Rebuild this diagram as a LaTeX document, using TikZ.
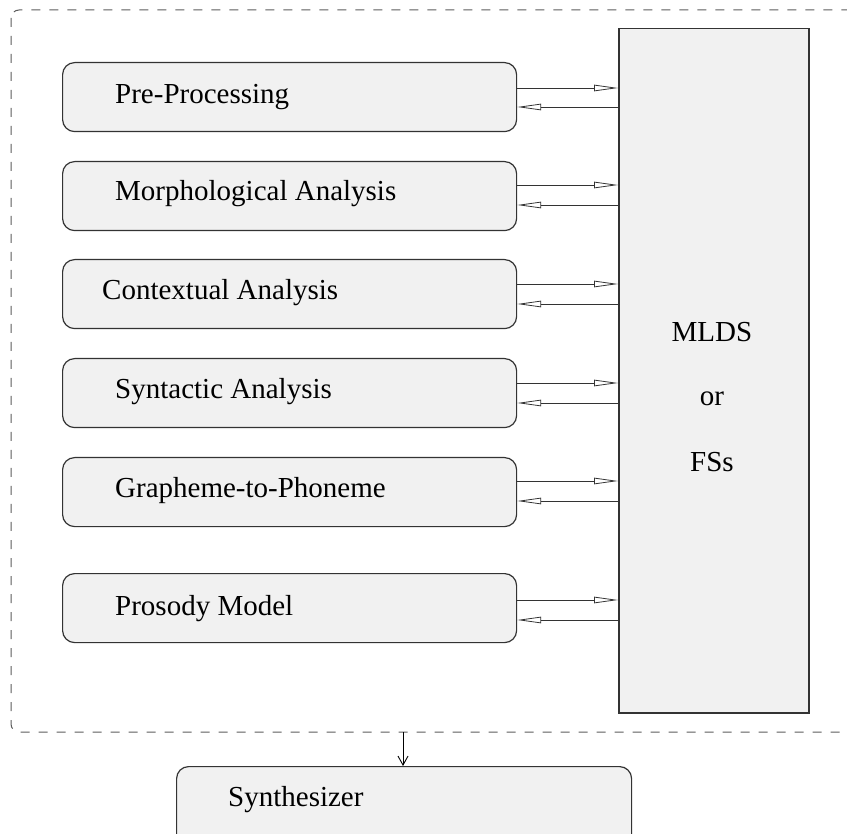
\documentclass[tikz,border=0pt]{standalone}
\usepackage{fontspec}
\setmainfont{Liberation Serif}
\usetikzlibrary{arrows.meta}
\definecolor{boxfill}{HTML}{F1F1F1}
\definecolor{edge}{HTML}{333333}
\begin{document}
\begin{tikzpicture}[x=1pt,y=-1pt,
  modbox/.style={draw=edge, line width=1.2pt, fill=boxfill, rounded corners=12pt,
    minimum width=454pt, minimum height=69pt, anchor=north west, inner sep=0pt},
  lbl/.style={anchor=base west, inner sep=0pt, font=\fontsize{29}{34}\selectfont},
  tolink/.style={draw=edge, line width=0.9pt, -{Triangle[open,length=24pt,width=6.5pt,line width=0.8pt]}}
]
\useasboundingbox (0,0) rectangle (847,834);

% dashed frame around the analysis stages
\draw[draw=edge!80, line width=1pt, dash pattern=on 9pt off 9pt, rounded corners=8pt]
  (11,10) rectangle (870,732);

% shared data store
\node[draw=edge, line width=1.5pt, fill=boxfill, anchor=north west, inner sep=0pt,
  minimum width=190pt, minimum height=684pt] (mlds) at (618,28) {};
\node[font=\fontsize{29}{34}\selectfont, anchor=base] (t1) at (712,342) {MLDS};
\node[font=\fontsize{29}{34}\selectfont, anchor=base] (t2) at (712,406) {or};
\node[font=\fontsize{29}{34}\selectfont, anchor=base] (t3) at (712,472) {FSs};

% analysis stages
\node[modbox] (pp) at (62,62) {};
\node[lbl] (ppl) at (115,104) {Pre-Processing};
\node[modbox] (ma) at (62,161) {};
\node[lbl] (mal) at (115,201) {Morphological Analysis};
\node[modbox] (ca) at (62,259) {};
\node[lbl] (cal) at (102,300) {Contextual Analysis};
\node[modbox] (sa) at (62,358) {};
\node[lbl] (sal) at (115,399) {Syntactic Analysis};
\node[modbox] (gp) at (62,457) {};
\node[lbl] (gpl) at (115,498) {Grapheme-to-Phoneme};
\node[modbox] (pm) at (62,573) {};
\node[lbl] (pml) at (115,615) {Prosody Model};

% two-way links between each stage and the store
\foreach \b/\up/\dn in {pp/26/45, ma/24/44, ca/25/45, sa/25/45, gp/24/44, pm/27/47}{
  \draw[tolink] ([yshift=-\up pt]\b.north east) -- ([yshift=-\up pt]\b.north east -| mlds.west);
  \draw[tolink] ([yshift=-\dn pt]\b.north east -| mlds.west) -- ([yshift=-\dn pt]\b.north east);
}

% synthesizer
\node[draw=edge, line width=1.2pt, fill=boxfill, rounded corners=12pt, anchor=north west,
  inner sep=0pt, minimum width=455pt, minimum height=80pt] (syn) at (176,766) {};
\node[lbl] (synl) at (228,806) {Synthesizer};
\coordinate (frameout) at (403,732);
\draw[draw=black, line width=0.9pt, -{Straight Barb[length=9pt,width=10pt,line width=0.9pt]}]
  (frameout) -- (frameout |- syn.north);
\end{tikzpicture}
\end{document}
